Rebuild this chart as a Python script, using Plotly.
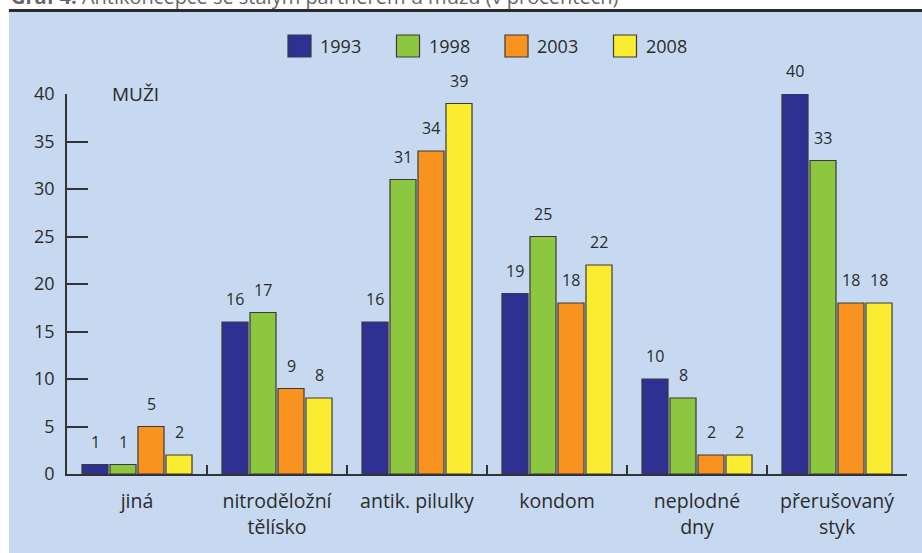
import plotly.graph_objects as go

# ---- data ----
categories = ["jiná", "nitroděložní<br>tělísko", "antik. pilulky", "kondom",
              "neplodné<br>dny", "přerušovaný<br>styk"]
years = ["1993", "1998", "2003", "2008"]
v1993 = [1, 16, 16, 19, 10, 40]
v1998 = [1, 17, 31, 25, 8, 33]
v2003 = [5, 9, 34, 18, 2, 18]
v2008 = [2, 8, 39, 22, 2, 18]
y_ticks = [0, 5, 10, 15, 20, 25, 30, 35, 40]
title_bold = "Graf 4:"
title_rest = "Antikoncepce se stálým partnerem u mužů (v procentech)"
panel_label = "MUŽI"

series = [v1993, v1998, v2003, v2008]
colors = ["#2e3192", "#8dc63f", "#f7931e", "#f9ec31"]

# ---- layout geometry (pixels) ----
W, H = 922, 553
L, R, T, B = 67, 15, 94, 79
PW, PH = W - L - R, H - T - B
FONT = "Open Sans, Noto Sans, sans-serif"
TXT = "#2b2b2b"
BG = "#c6d9f1"


def px_x(px):
    return (px - L) / PW


def px_y(py):
    return (H - B - py) / PH


fig = go.Figure()
for name, vals, col in zip(years, series, colors):
    fig.add_trace(go.Bar(
        x=categories, y=vals, name=name,
        marker=dict(color=col, line=dict(color="#3a3a3a", width=1.2)),
        showlegend=False, hoverinfo="x+y+name",
    ))

annotations = []
slot = PW / len(categories) * 0.8 / len(years)
for j, vals in enumerate(series):
    for cat, v in zip(categories, vals):
        annotations.append(dict(
            x=cat, y=v, xref="x", yref="y", text=str(v), showarrow=False,
            xshift=(j - 1.5) * slot, yshift=10, yanchor="bottom",
            font=dict(family=FONT, size=16, color=TXT),
        ))

# panel label
annotations.append(dict(
    x=px_x(110), y=px_y(94), xref="paper", yref="paper", text=panel_label,
    showarrow=False, xanchor="left", yanchor="middle",
    font=dict(family=FONT, size=19, color=TXT),
))

# partially visible title (cut off at the top of the image)
annotations.append(dict(
    x=px_x(9), y=px_y(12), xref="paper", yref="paper",
    text=f"<b>{title_bold}</b> {title_rest}",
    showarrow=False, xanchor="left", yanchor="bottom",
    font=dict(family=FONT, size=20, color="#666666"),
))

shapes = [
    # light-blue panel
    dict(type="rect", xref="paper", yref="paper", layer="below",
         x0=px_x(9), x1=px_x(W + 2), y0=px_y(11), y1=px_y(H + 2),
         fillcolor=BG, line=dict(width=0)),
    # dark rule under the title
    dict(type="line", xref="paper", yref="paper", layer="above",
         x0=px_x(9), x1=px_x(W + 2), y0=px_y(10.5), y1=px_y(10.5),
         line=dict(color="#2a2a2a", width=3)),
]

# manual legend with large swatches
leg_x0, leg_step, sw, leg_y = 288, 108.5, 23, 46
for i, (name, col) in enumerate(zip(years, colors)):
    x0 = leg_x0 + i * leg_step
    shapes.append(dict(
        type="rect", xref="paper", yref="paper",
        x0=px_x(x0), x1=px_x(x0 + sw), y0=px_y(leg_y - 11), y1=px_y(leg_y + 11),
        fillcolor=col, line=dict(color="#3a3a3a", width=1.2),
    ))
    annotations.append(dict(
        x=px_x(x0 + sw + 7), y=px_y(leg_y), xref="paper", yref="paper",
        text=name, showarrow=False, xanchor="left", yanchor="middle",
        font=dict(family=FONT, size=18, color=TXT),
    ))

fig.update_layout(
    width=W, height=H,
    margin=dict(l=L, r=R, t=T, b=B, pad=0),
    paper_bgcolor="white", plot_bgcolor="rgba(0,0,0,0)",
    barmode="group", bargap=0.2, bargroupgap=0.07,
    font=dict(family=FONT, size=18, color=TXT),
    annotations=annotations, shapes=shapes,
    showlegend=False,
)
fig.update_xaxes(
    showline=True, linecolor="#333333", linewidth=1.5,
    ticks="inside", ticklen=9, tickwidth=1.5, tickcolor="#333333",
    tickson="boundaries", showgrid=False, zeroline=False,
    tickfont=dict(family=FONT, size=19.5, color=TXT),
    ticklabelstandoff=9,
)
fig.update_yaxes(
    range=[0, 40], tickvals=y_ticks, showline=True, linecolor="#333333",
    linewidth=1.5, ticks="inside", ticklen=21, tickwidth=1.5,
    tickcolor="#333333", showgrid=False, zeroline=False,
    tickfont=dict(family=FONT, size=18, color=TXT),
    ticklabelstandoff=7,
)

fig.write_html("out.html",
               config={"displayModeBar": False},
               post_script="document.body.style.margin='0';")
